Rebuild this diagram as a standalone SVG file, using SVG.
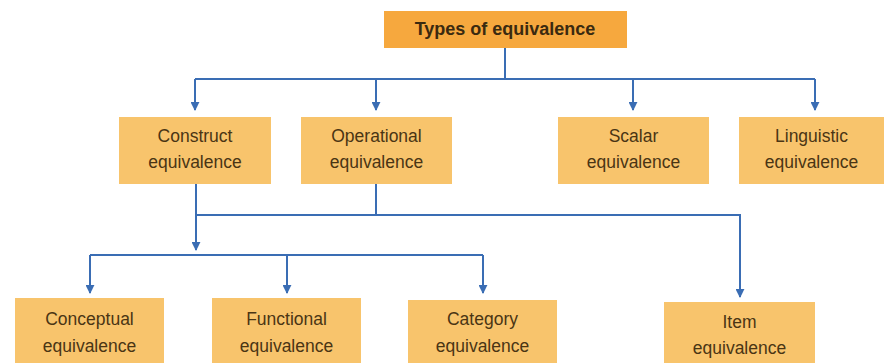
<svg xmlns="http://www.w3.org/2000/svg" width="885" height="363" viewBox="0 0 885 363">
<defs>
<marker id="ah" viewBox="0 0 10 10" refX="9" refY="5" markerWidth="9" markerHeight="9" markerUnits="userSpaceOnUse" orient="auto">
<path d="M0,0 L10,5 L0,10 z" fill="#3a6db4"/>
</marker>
<style>
.box{fill:#f8c46c;}
.top{fill:#f6a83e;}
.t{font-family:"Liberation Sans",Arial,sans-serif;font-size:17.5px;fill:#4a3514;text-anchor:middle;}
.tb{font-family:"Liberation Sans",Arial,sans-serif;font-size:18px;font-weight:bold;fill:#3a2a10;text-anchor:middle;}
.c{fill:none;stroke:#3a6db4;stroke-width:2;}
</style>
</defs>
<rect width="885" height="363" fill="#ffffff"/>
<g id="connectors">
<path class="c" d="M505,48 V79"/>
<path class="c" d="M195,79 H815"/>
<path class="c" d="M195,79 V110" marker-end="url(#ah)"/>
<path class="c" d="M376,79 V110" marker-end="url(#ah)"/>
<path class="c" d="M633,79 V110" marker-end="url(#ah)"/>
<path class="c" d="M815,79 V110" marker-end="url(#ah)"/>
<path class="c" d="M196,184 V250" marker-end="url(#ah)"/>
<path class="c" d="M376,184 V215"/>
<path class="c" d="M196,215 H740 V297" marker-end="url(#ah)"/>
<path class="c" d="M90,255 H483"/>
<path class="c" d="M90,255 V293" marker-end="url(#ah)"/>
<path class="c" d="M287,255 V293" marker-end="url(#ah)"/>
<path class="c" d="M483,255 V293" marker-end="url(#ah)"/>
</g>
<g id="types">
<rect class="top" x="384" y="11" width="243" height="37"/>
<text class="tb" x="505" y="35">Types of equivalence</text>
</g>
<g id="construct">
<rect class="box" x="119" y="117" width="152" height="67"/>
<text class="t" x="195" y="142">Construct</text>
<text class="t" x="195" y="168">equivalence</text>
</g>
<g id="operational">
<rect class="box" x="301" y="117" width="151" height="67"/>
<text class="t" x="376.5" y="142">Operational</text>
<text class="t" x="376.5" y="168">equivalence</text>
</g>
<g id="scalar">
<rect class="box" x="558" y="117" width="151" height="67"/>
<text class="t" x="633.5" y="142">Scalar</text>
<text class="t" x="633.5" y="168">equivalence</text>
</g>
<g id="linguistic">
<rect class="box" x="739" y="117" width="145" height="67"/>
<text class="t" x="811.5" y="142">Linguistic</text>
<text class="t" x="811.5" y="168">equivalence</text>
</g>
<g id="conceptual">
<rect class="box" x="15" y="298" width="149" height="70"/>
<text class="t" x="89.5" y="325">Conceptual</text>
<text class="t" x="89.5" y="352">equivalence</text>
</g>
<g id="functional">
<rect class="box" x="212" y="298" width="149" height="70"/>
<text class="t" x="286.5" y="325">Functional</text>
<text class="t" x="286.5" y="352">equivalence</text>
</g>
<g id="category">
<rect class="box" x="408" y="300" width="149" height="70"/>
<text class="t" x="482.5" y="325">Category</text>
<text class="t" x="482.5" y="352">equivalence</text>
</g>
<g id="item">
<rect class="box" x="664" y="302" width="151" height="70"/>
<text class="t" x="739.5" y="328">Item</text>
<text class="t" x="739.5" y="354">equivalence</text>
</g>
</svg>
